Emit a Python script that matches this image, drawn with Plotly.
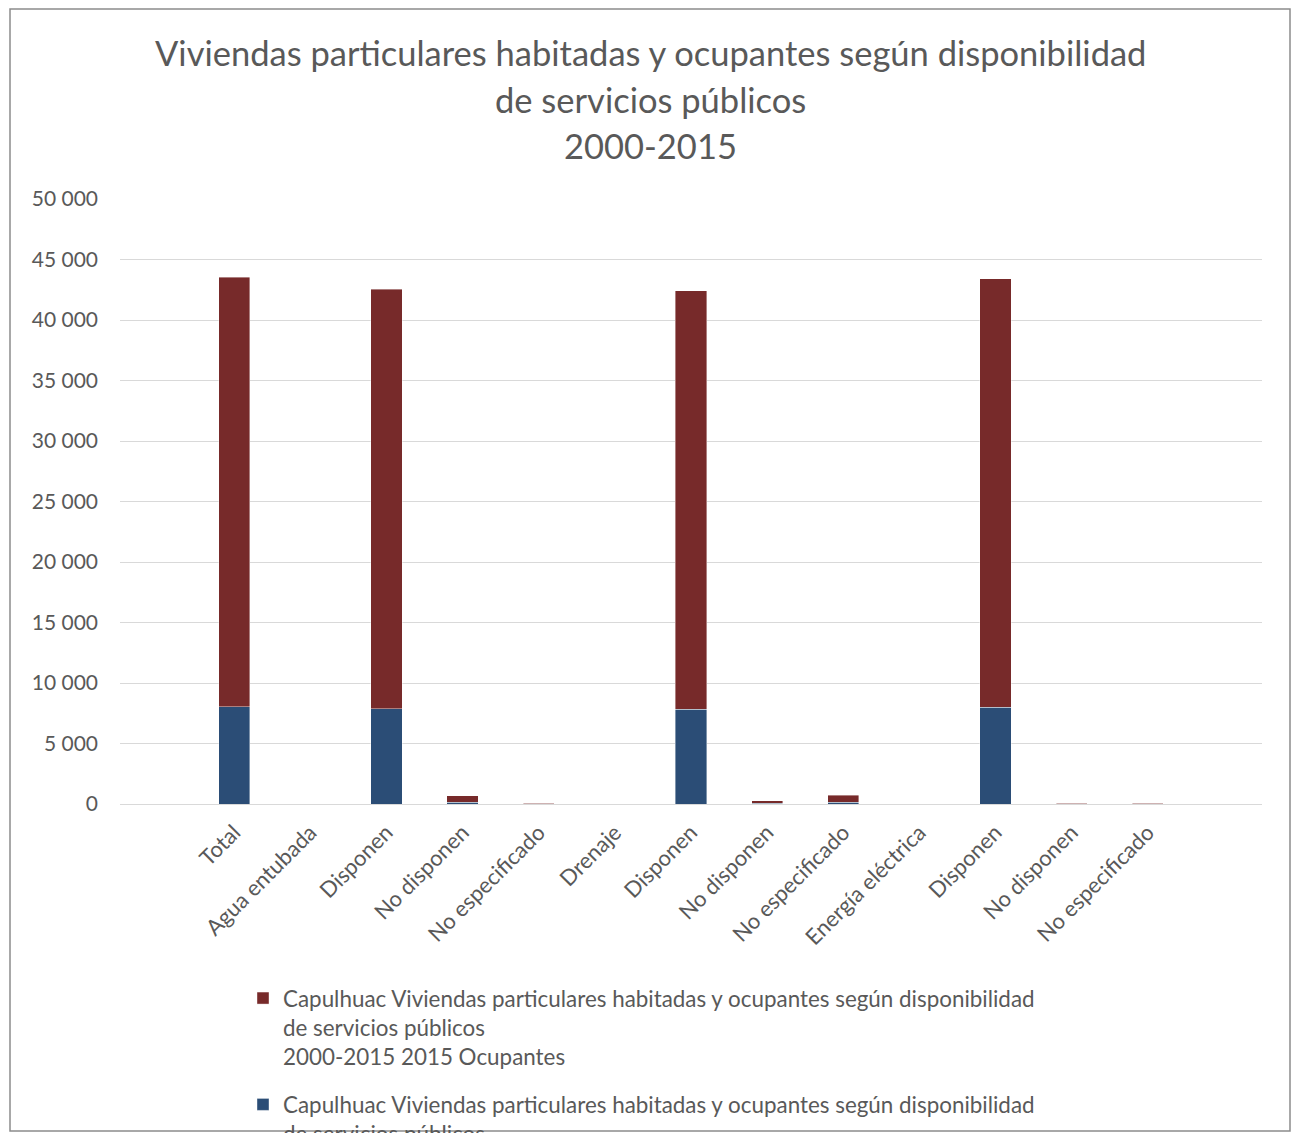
import plotly.graph_objects as go

# ---------------- data ----------------
categories = ["", "Total", "Agua entubada", "Disponen", "No disponen", "No especificado",
              "Drenaje", "Disponen", "No disponen", "No especificado",
              "Energía eléctrica", "Disponen", "No disponen", "No especificado", ""]
viviendas = [None, 8030, None, 7860, 125, 15, None, 7840, 46, 137, None, 7990, 10, 12, None]
ocupantes = [None, 35520, None, 34700, 560, 65, None, 34560, 204, 603, None, 35400, 40, 50, None]

title_lines = ["Viviendas particulares habitadas y ocupantes según disponibilidad",
               "de servicios públicos",
               "2000-2015"]
series_base = "Capulhuac Viviendas particulares habitadas y ocupantes según disponibilidad<br>de servicios públicos<br>2000-2015 2015 "
name_viv = series_base + "Viviendas"
name_ocu = series_base + "Ocupantes"

y_ticks = list(range(0, 50001, 5000))

# ---------------- layout constants ----------------
W, H = 1291, 1133
# target page-pixel geometry of plot area
PL, PR, PT, PB = 120, 1262, 199, 804
L, R, T, B = PL, W - PR, PT, H - PB
FONT = "Lato, 'Open Sans', sans-serif"
TXT = "#595959"
RED = "#772A2A"
BLUE = "#2B4D76"

xpos = list(range(len(categories)))
plot_h = PB - PT
plot_w = PR - PL

def py(pix):
    return (PB - pix) / plot_h

def px(pix):
    return (pix - PL) / plot_w

fig = go.Figure()
fig.add_trace(go.Bar(x=xpos, y=viviendas, name=name_viv, legendgroup="v", legendrank=2,
                     marker=dict(color=BLUE, line=dict(color="rgba(255,255,255,0.5)", width=0.8))))
fig.add_trace(go.Bar(x=xpos, y=ocupantes, name=name_ocu, legendgroup="o", legendrank=1,
                     marker=dict(color=RED, line=dict(color="rgba(255,255,255,0.5)", width=0.8))))

annotations = []
for line, ypix in zip(title_lines, [53, 99, 145]):
    annotations.append(dict(text=line, xref="paper", yref="paper", x=px(650), y=py(ypix),
                            xanchor="center", yanchor="middle", showarrow=False,
                            font=dict(family=FONT, size=34.5, color=TXT)))

fig.update_layout(
    width=W, height=H,
    margin=dict(l=L, r=R, t=T, b=B, autoexpand=False),
    paper_bgcolor="white", plot_bgcolor="white",
    barmode="stack", bargap=0.59,
    separators=". ",
    font=dict(family=FONT, color=TXT, size=21),
    annotations=annotations,
    xaxis=dict(range=[-0.5, len(categories) - 0.5], tickmode="array", tickvals=xpos,
               ticktext=categories, tickangle=-45, showgrid=False, zeroline=False,
               showline=True, linecolor="#D9D9D9", linewidth=1, ticks="",
               tickfont=dict(family=FONT, size=22, color=TXT), ticklabelstandoff=6),
    yaxis=dict(range=[0, 50000], tickvals=y_ticks, tickformat=",d", showgrid=True,
               gridcolor="#D9D9D9", gridwidth=1, zeroline=False, showline=False,
               tickfont=dict(family=FONT, size=21, color=TXT), ticklabelstandoff=21),
    legend=dict(x=px(243), y=py(977), xanchor="left", yanchor="top",
                traceorder="grouped", tracegroupgap=16, valign="top",
                font=dict(family=FONT, size=22.4, color=TXT), bgcolor="rgba(0,0,0,0)"),
    shapes=[dict(type="rect", xref="paper", yref="paper", x0=px(10), x1=px(1290),
                 y0=py(1131), y1=py(9), line=dict(color="#8C8C8C", width=1.5),
                 fillcolor="rgba(0,0,0,0)", layer="above")],
)

fig.write_html("out.html", config={"displayModeBar": False},
               post_script="document.body.style.margin='0';document.body.style.overflow='hidden';")
